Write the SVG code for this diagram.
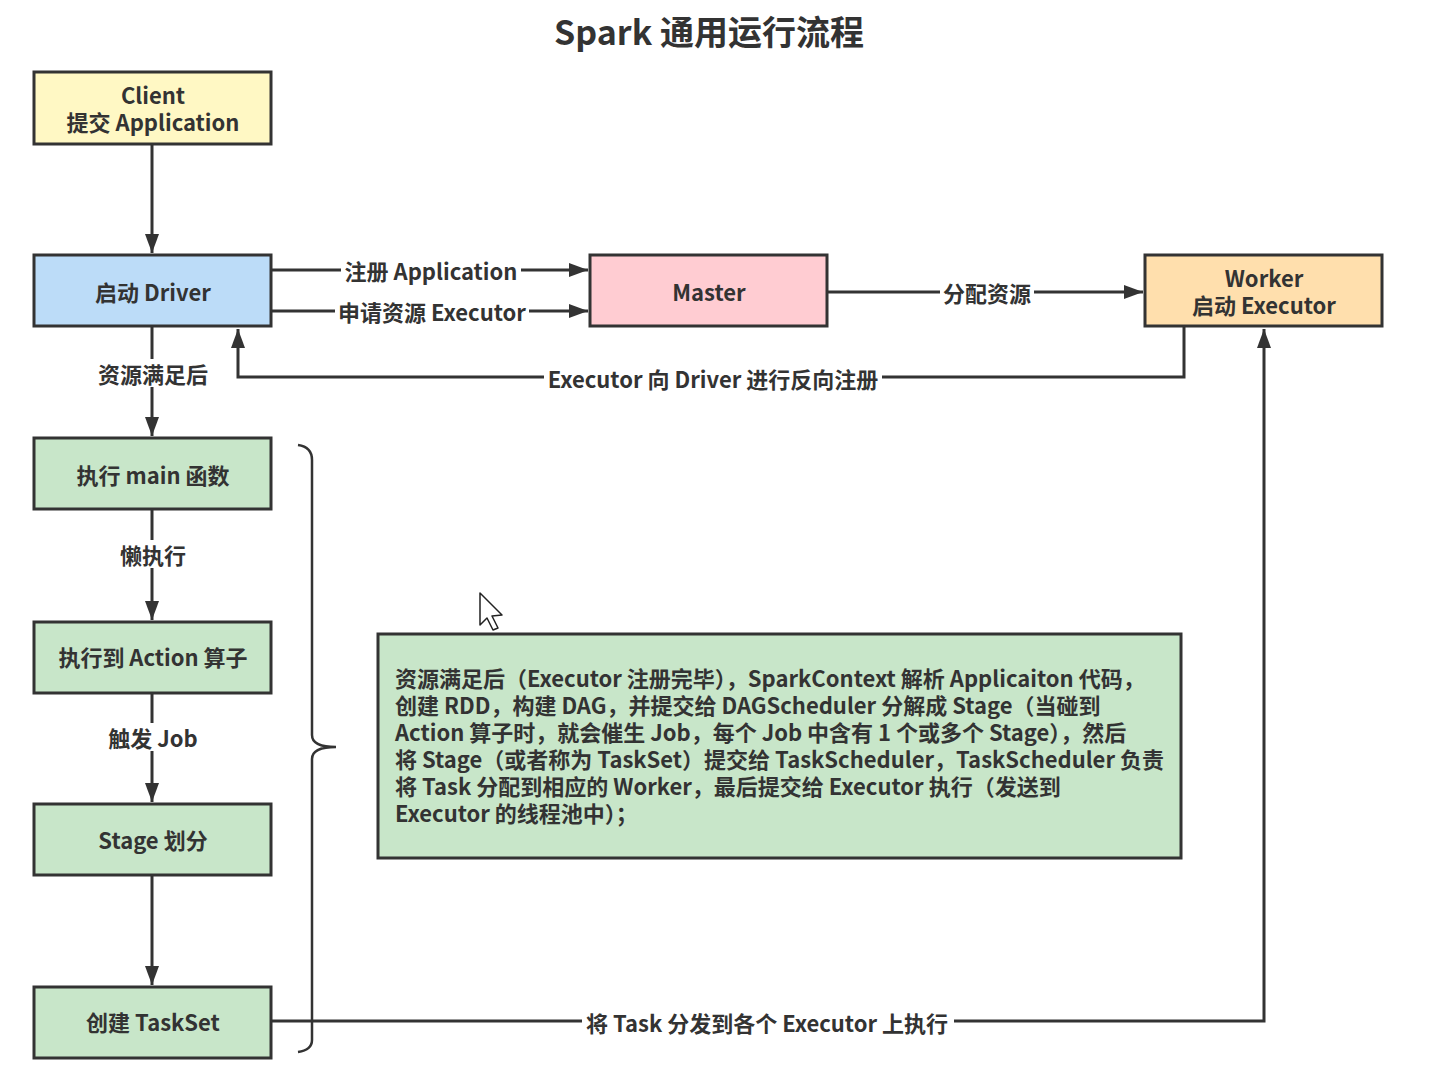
<svg xmlns="http://www.w3.org/2000/svg" width="1435" height="1090" viewBox="0 0 1435 1090">
<defs>
<marker id="ah" viewBox="0 0 19 14" refX="19" refY="7" markerWidth="19" markerHeight="14" markerUnits="userSpaceOnUse" orient="auto">
<path d="M0,0 L19,7 L0,14 Z" fill="#333"/>
</marker>
<style>
.box{stroke:#333;stroke-width:3}
.t{font-family:"Noto Sans CJK SC","Noto Sans",sans-serif;font-weight:bold;font-size:22px;fill:#333;text-anchor:middle;dominant-baseline:central}
.lbl{font-family:"Noto Sans CJK SC","Noto Sans",sans-serif;font-weight:bold;font-size:22px;fill:#333;text-anchor:middle;dominant-baseline:central}
.bt{font-family:"Noto Sans CJK SC","Noto Sans",sans-serif;font-weight:bold;font-size:22px;fill:#333;dominant-baseline:central}
.ln{fill:none;stroke:#333;stroke-width:3}
.bg{fill:#fff}
</style>
</defs>
<rect width="1435" height="1090" fill="#fff"/>
<text x="709" y="30" class="t" style="font-size:34px">Spark 通用运行流程</text>

<g id="connectors">
<path class="ln" d="M152,145 V253" marker-end="url(#ah)"/>
<path class="ln" d="M272,270 H588" marker-end="url(#ah)"/>
<path class="ln" d="M272,311 H588" marker-end="url(#ah)"/>
<path class="ln" d="M828,292 H1143" marker-end="url(#ah)"/>
<path class="ln" d="M1184,327 V377 H238 V329" marker-end="url(#ah)"/>
<path class="ln" d="M152,327 V436" marker-end="url(#ah)"/>
<path class="ln" d="M152,510 V620" marker-end="url(#ah)"/>
<path class="ln" d="M152,694 V802" marker-end="url(#ah)"/>
<path class="ln" d="M152,876 V985" marker-end="url(#ah)"/>
<path class="ln" d="M272,1021 H1264 V329" marker-end="url(#ah)"/>
<rect class="bg" x="341" y="256" width="180" height="28"/>
<text class="lbl" x="431" y="270">注册 Application</text>
<rect class="bg" x="335" y="297" width="194" height="28"/>
<text class="lbl" x="432" y="311">申请资源 Executor</text>
<rect class="bg" x="940" y="278" width="94" height="28"/>
<text class="lbl" x="987" y="292">分配资源</text>
<rect class="bg" x="544" y="364" width="338" height="28"/>
<text class="lbl" x="713" y="378">Executor 向 Driver 进行反向注册</text>
<rect class="bg" x="96" y="359" width="114" height="28"/>
<text class="lbl" x="153" y="373">资源满足后</text>
<rect class="bg" x="118" y="540" width="70" height="28"/>
<text class="lbl" x="153" y="554">懒执行</text>
<rect class="bg" x="104" y="723" width="98" height="28"/>
<text class="lbl" x="153" y="737">触发 Job</text>
<rect class="bg" x="582" y="1008" width="372" height="28"/>
<text class="lbl" x="767" y="1022">将 Task 分发到各个 Executor 上执行</text>
</g>

<g id="client"><rect class="box" x="34" y="72" width="237" height="72" fill="#fff8c4"/>
<text class="t" x="153" y="94">Client</text><text class="t" x="153" y="121">提交 Application</text></g>
<g id="driver"><rect class="box" x="34" y="255" width="237" height="71" fill="#bcdcf8"/>
<text class="t" x="153" y="291">启动 Driver</text></g>
<g id="master"><rect class="box" x="590" y="255" width="237" height="71" fill="#ffccd2"/>
<text class="t" x="709" y="291">Master</text></g>
<g id="worker"><rect class="box" x="1145" y="255" width="237" height="71" fill="#ffdfad"/>
<text class="t" x="1264" y="277">Worker</text><text class="t" x="1264" y="304">启动 Executor</text></g>
<g id="main"><rect class="box" x="34" y="438" width="237" height="71" fill="#c8e6c9"/>
<text class="t" x="153" y="474">执行 main 函数</text></g>
<g id="action"><rect class="box" x="34" y="622" width="237" height="71" fill="#c8e6c9"/>
<text class="t" x="153" y="656">执行到 Action 算子</text></g>
<g id="stage"><rect class="box" x="34" y="804" width="237" height="71" fill="#c8e6c9"/>
<text class="t" x="153" y="839">Stage 划分</text></g>
<g id="taskset"><rect class="box" x="34" y="987" width="237" height="71" fill="#c8e6c9"/>
<text class="t" x="153" y="1021">创建 TaskSet</text></g>

<g id="brace"><path class="ln" style="stroke-width:2.5" d="M298,445 Q312,447 312,460 V735 Q312,747 336,747 Q312,747 312,759 V1040 Q312,1050 298,1052"/></g>

<g id="note"><rect class="box" x="378" y="634" width="803" height="224" fill="#c8e6c9"/>
<text class="bt" x="395" y="677">资源满足后（Executor 注册完毕），SparkContext 解析 Applicaiton 代码，</text>
<text class="bt" x="395" y="704">创建 RDD，构建 DAG，并提交给 DAGScheduler 分解成 Stage（当碰到</text>
<text class="bt" x="395" y="731">Action 算子时，就会催生 Job，每个 Job 中含有 1 个或多个 Stage），然后</text>
<text class="bt" x="395" y="758">将 Stage（或者称为 TaskSet）提交给 TaskScheduler，TaskScheduler 负责</text>
<text class="bt" x="395" y="785">将 Task 分配到相应的 Worker，最后提交给 Executor 执行（发送到</text>
<text class="bt" x="395" y="812">Executor 的线程池中）；</text>
</g>

<path d="M480,593 L480,625 L487,618 L493,630 L498,628 L492,616 L502,615 Z" fill="#fff" stroke="#222" stroke-width="1.5" stroke-linejoin="round"/>
</svg>
